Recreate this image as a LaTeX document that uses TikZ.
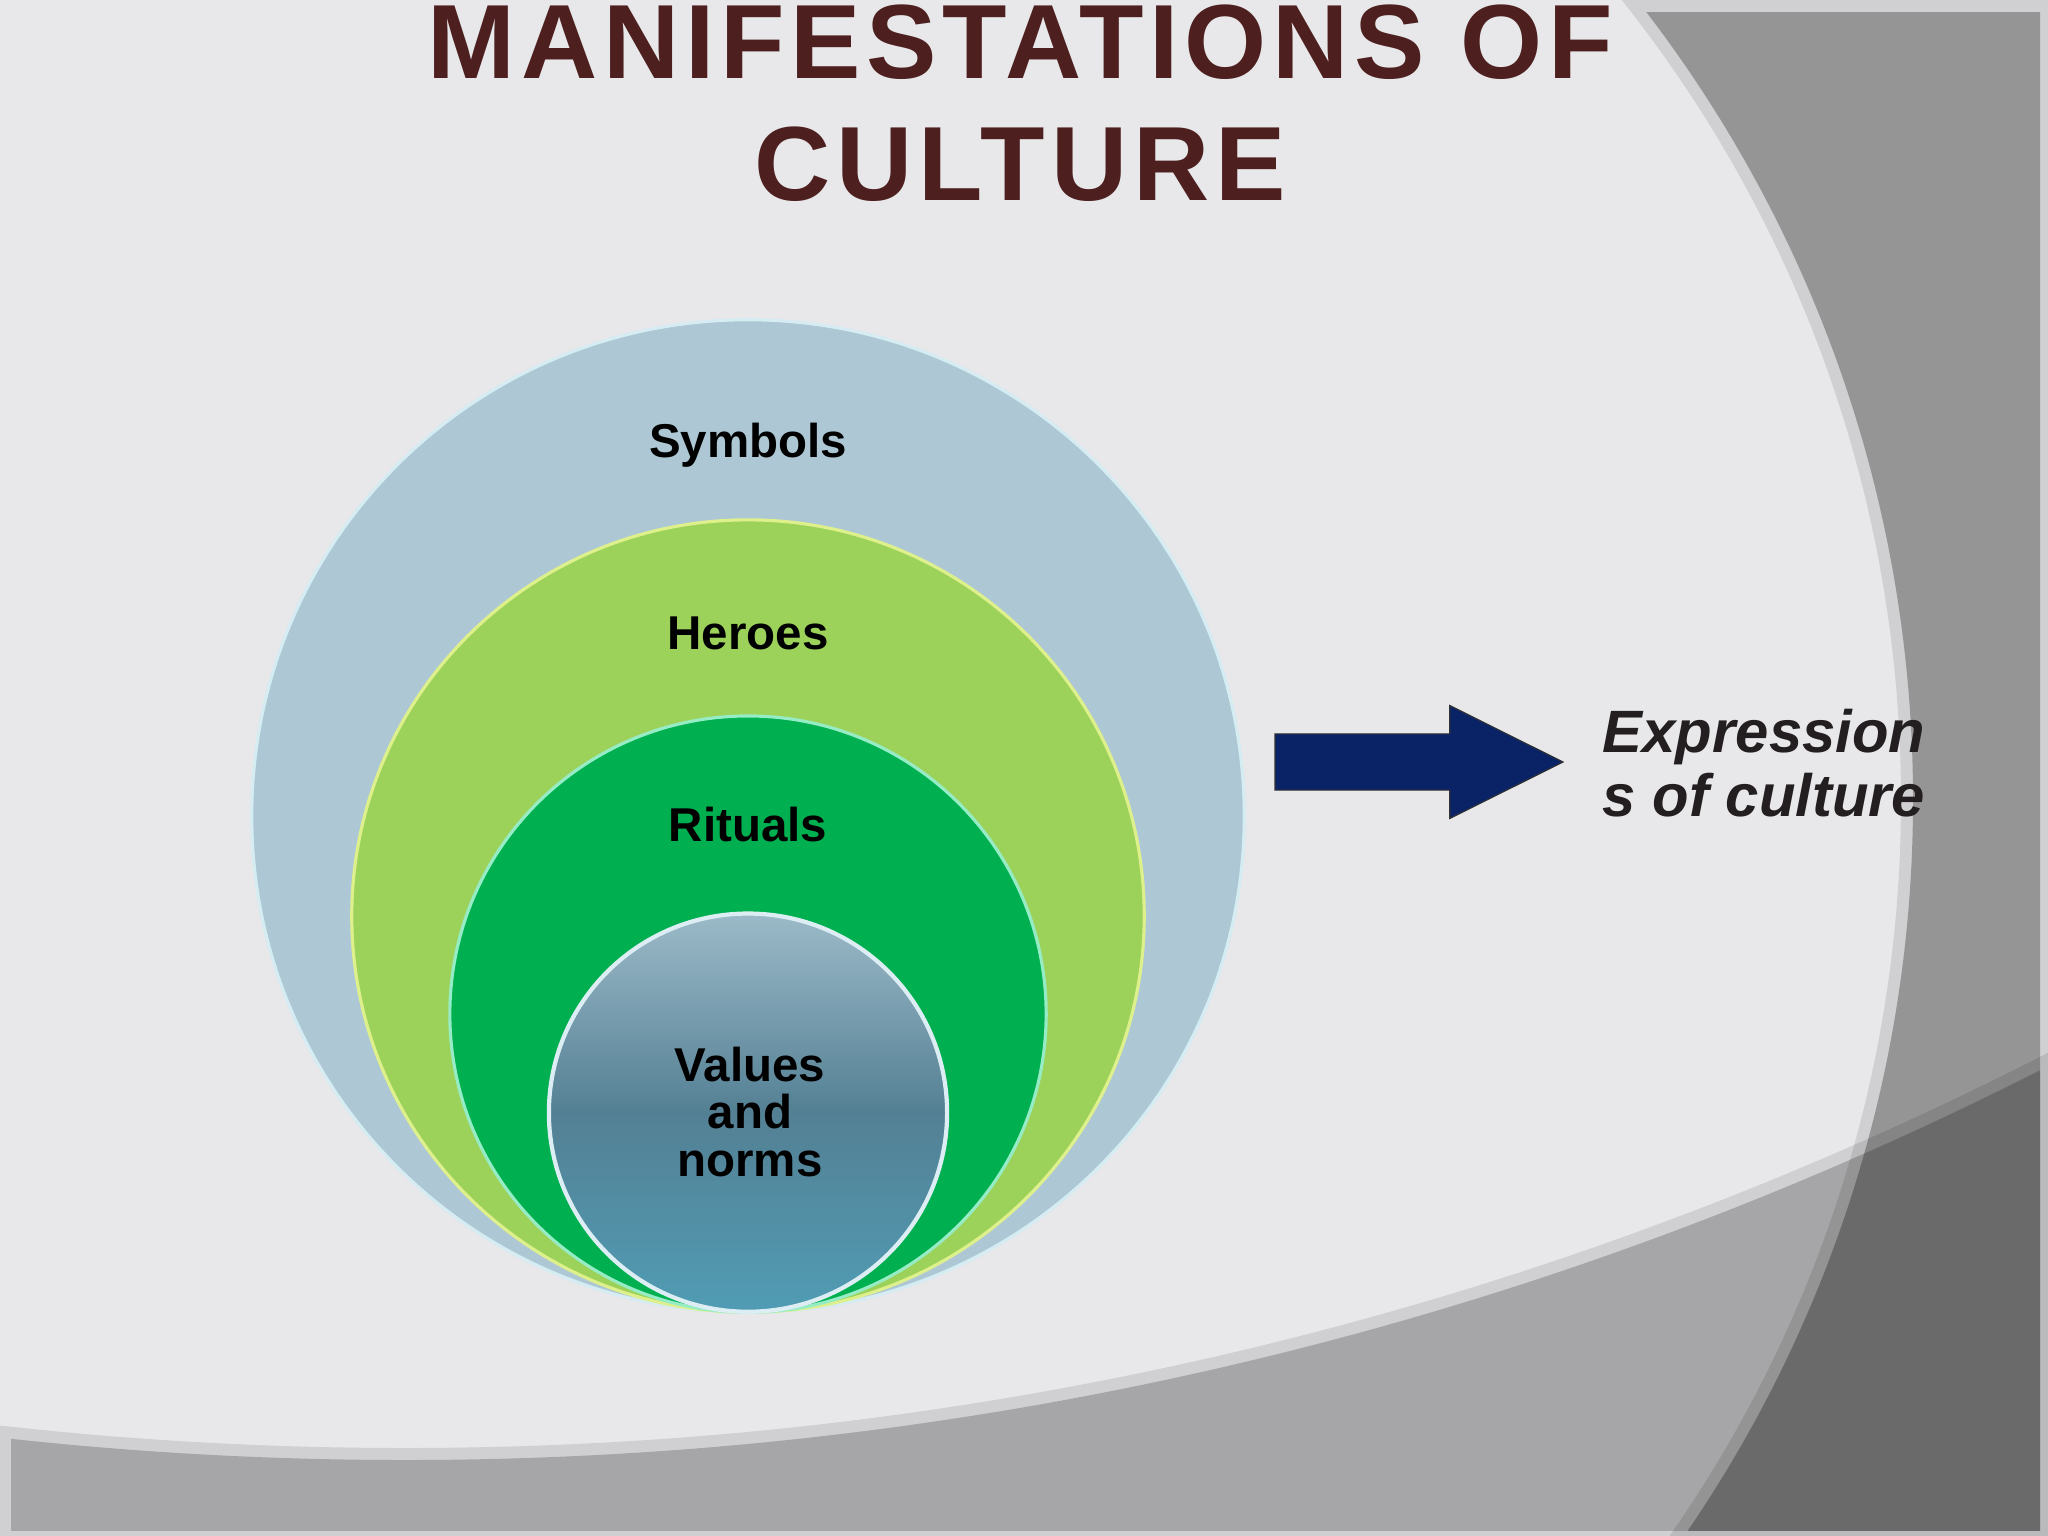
\documentclass[tikz,border=0pt]{standalone}
\usepackage{fontspec}
\setmainfont{Liberation Sans}
\usetikzlibrary{shapes.arrows}
\usetikzlibrary{positioning}
\definecolor{canvas}{RGB}{232,231,233}
\definecolor{titlebrown}{RGB}{77,31,31}
\definecolor{symbolsblue}{RGB}{173,200,212}
\definecolor{symbolsrim}{RGB}{214,236,243}
\definecolor{heroesgreen}{RGB}{156,210,90}
\definecolor{heroesrim}{RGB}{222,240,140}
\definecolor{ritualsgreen}{RGB}{0,176,80}
\definecolor{ritualsrim}{RGB}{150,236,196}
\definecolor{valuestop}{RGB}{156,186,200}
\definecolor{valuesmid}{RGB}{84,128,148}
\definecolor{valuesbottom}{RGB}{80,156,180}
\definecolor{valuesrim}{RGB}{220,238,244}
\definecolor{arrownavy}{RGB}{10,34,102}
\definecolor{exprink}{RGB}{35,31,32}
\tikzstyle{every ring} = [line width=0.9pt]
\tikzstyle{ring} = [circle, inner sep=0pt, every ring]
\tikzstyle{ring label} = [font=\fontsize{13.5}{13.4}\selectfont\bfseries, align=center, anchor=base]
\tikzstyle{slide title} = [font=\fontsize{30}{34.6}\selectfont\bfseries\addfontfeature{LetterSpace=5.5}, text=titlebrown, align=center, anchor=base]
\tikzstyle{expression} = [font=\fontsize{17}{18.1}\selectfont\bfseries\itshape, text=exprink, align=center, anchor=base]
\tikzstyle{block arrow} = [single arrow, fill=arrownavy, draw=black!80, line width=0.3pt, inner sep=0pt, outer sep=0pt, text height=0.55cm, text depth=0pt, minimum height=2.88cm, minimum width=1.12cm, single arrow head extend=0.285cm, single arrow tip angle=53]
\tikzstyle{band} = [black, even odd rule]

\begin{document}
\begin{tikzpicture}[x=0.01cm, y=-0.01cm]
  \useasboundingbox (0,0) rectangle (2048,1536);
  \clip (0,0) rectangle (2048,1536);
  \fill[canvas] (0,0) rectangle (2048,1536);
  \fill[band, opacity=0.1] (-5000,-7000) rectangle (6000,3000) (616,800) circle[radius=1285];
  \fill[band, opacity=0.1] (-5000,-7000) rectangle (6000,3000) (405,-2157) circle[radius=3605];
  \begin{scope}
    \clip (11,12) rectangle (2040,1530);
    \fill[band, opacity=0.28] (-5000,-7000) rectangle (6000,3000) (616,800) circle[radius=1297];
    \fill[band, opacity=0.2] (-5000,-7000) rectangle (6000,3000) (405,-2157) circle[radius=3617];
  \end{scope}
  \node[slide title] (title) at (1020,200) {MANIFESTATIONS OF\\CULTURE};
  \node[ring, minimum size=9.92cm, fill=symbolsblue, draw=symbolsrim] (symbols) at (748,816) {};
  \node[ring, minimum size=7.92cm, fill=heroesgreen, draw=heroesrim, anchor=south] (heroes) at (symbols.south) {};
  \node[ring, minimum size=5.96cm, fill=ritualsgreen, draw=ritualsrim, anchor=south] (rituals) at (heroes.south) {};
  \node[ring, minimum size=3.98cm, top color=valuestop, bottom color=valuesbottom, middle color=valuesmid, draw=valuesrim, line width=1.2pt, anchor=south] (values) at (rituals.south) {};
  \node[ring label] (symbolstext) at (748,457) {Symbols};
  \node[ring label] (heroestext) at (748,649) {Heroes};
  \node[ring label] (ritualstext) at (748,841) {Rituals};
  \node[ring label] (valuestext) at (750,1176) {Values\\and\\norms};
  \node[block arrow, anchor=tail] (arrow) at (1275,762) {};
  \node[expression] (expr) at (1764,816) {Expression\\s of culture};
\end{tikzpicture}
\end{document}
